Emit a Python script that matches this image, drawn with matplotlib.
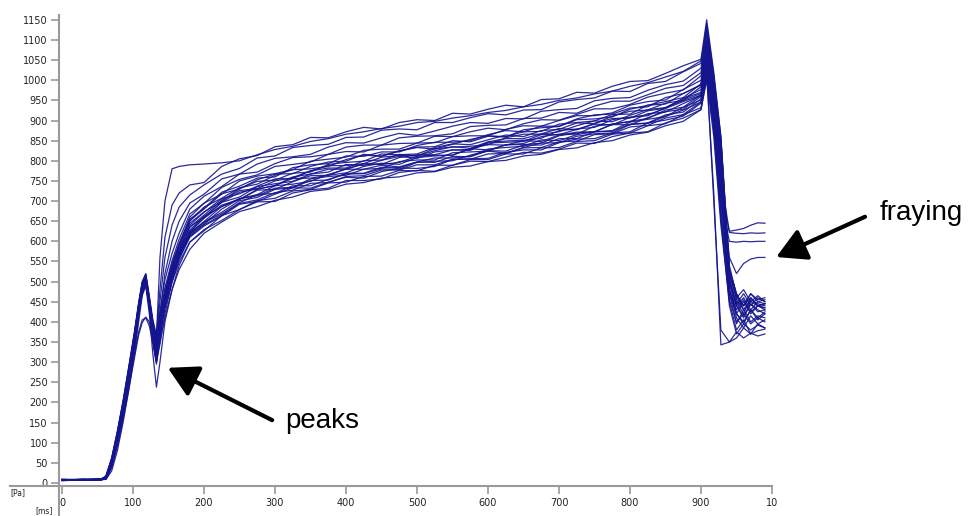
import matplotlib.pyplot as plt

# time grid [ms]: rise/peak part, plateau part, drop/fraying part
t_rise = [0, 30, 55, 62, 70, 78, 86, 94, 102, 108, 113, 118, 123, 128, 133, 138, 145, 155, 165, 180]
t_body = [200, 225, 250, 275, 300, 325, 350, 375, 400, 425, 450, 475, 500, 525, 550,
          575, 600, 625, 650, 675, 700, 725, 750, 775, 800, 825, 850, 875, 900]
t_drop = [908, 918, 928, 940, 950, 960, 970, 980, 990]

# pressure traces [Pa] (rise, body, drop)
tr01 = [7, 8, 8, 9, 30, 80, 150, 230, 320, 400, 465, 490, 440, 370, 310, 350, 410, 480, 530, 580,
        620, 648, 674, 686, 702, 710, 724, 729, 742, 746, 757, 760, 770, 773, 784, 787, 798, 801, 812, 816, 828, 832, 845, 850, 864, 871, 887, 898, 927,
        1000, 860, 640, 450, 380, 405, 370, 395, 385]
tr02 = [8, 7, 9, 12, 42, 98, 168, 248, 338, 418, 476, 495, 432, 362, 318, 372, 432, 498, 548, 598,
        626, 664, 679, 701, 707, 725, 729, 745, 747, 761, 762, 776, 775, 789, 789, 803, 803, 817, 817, 832, 833, 848, 850, 866, 869, 887, 892, 914, 932,
        1010, 880, 660, 455, 400, 420, 395, 410, 400]
tr03 = [6, 8, 8, 11, 48, 108, 180, 262, 350, 428, 482, 502, 438, 352, 300, 362, 445, 510, 560, 612,
        641, 665, 694, 703, 721, 727, 744, 746, 761, 763, 777, 777, 790, 790, 804, 804, 817, 818, 832, 833, 847, 849, 865, 867, 884, 888, 906, 915, 946,
        1020, 890, 680, 470, 420, 395, 430, 410, 425]
tr04 = [8, 9, 8, 14, 52, 112, 185, 268, 356, 432, 488, 508, 445, 372, 330, 385, 452, 518, 566, 622,
        648, 672, 701, 709, 729, 733, 751, 752, 769, 769, 784, 783, 797, 796, 811, 810, 825, 824, 839, 839, 855, 855, 872, 873, 891, 894, 914, 921, 954,
        1030, 900, 700, 480, 430, 455, 420, 440, 435]
tr05 = [7, 8, 9, 10, 40, 95, 165, 245, 335, 415, 470, 498, 450, 385, 335, 378, 440, 508, 560, 618,
        649, 687, 706, 716, 738, 742, 749, 766, 779, 779, 781, 798, 802, 802, 820, 822, 824, 840, 840, 844, 862, 869, 872, 890, 889, 907, 922, 928, 960,
        1040, 910, 720, 500, 440, 410, 445, 430, 420]
tr06 = [9, 8, 8, 13, 50, 110, 182, 265, 352, 430, 485, 505, 440, 360, 312, 372, 448, 520, 570, 628,
        662, 686, 704, 729, 739, 756, 757, 764, 780, 793, 791, 796, 811, 814, 814, 830, 840, 839, 843, 860, 866, 866, 886, 891, 897, 917, 921, 942, 962,
        1050, 930, 740, 470, 395, 430, 400, 415, 410]
tr07 = [8, 7, 9, 15, 55, 118, 192, 275, 362, 438, 490, 512, 448, 378, 340, 395, 462, 530, 578, 636,
        659, 697, 722, 730, 738, 760, 767, 772, 791, 788, 801, 811, 806, 822, 827, 828, 846, 849, 851, 856, 875, 879, 883, 902, 908, 912, 932, 950, 967,
        1060, 940, 760, 490, 450, 420, 460, 440, 445]
tr08 = [7, 9, 8, 10, 44, 102, 175, 256, 345, 424, 480, 500, 436, 350, 295, 360, 440, 515, 570, 640,
        672, 706, 718, 737, 755, 756, 775, 788, 788, 793, 809, 813, 812, 830, 834, 836, 840, 857, 866, 866, 872, 887, 899, 897, 913, 927, 932, 955, 977,
        1070, 950, 780, 500, 420, 400, 430, 405, 420]
tr09 = [8, 8, 10, 16, 58, 122, 196, 280, 366, 440, 494, 515, 455, 385, 345, 400, 468, 535, 585, 645,
        673, 699, 731, 749, 752, 769, 772, 791, 796, 799, 817, 815, 817, 833, 842, 840, 852, 864, 860, 875, 878, 894, 892, 911, 923, 926, 943, 950, 984,
        1080, 960, 800, 520, 460, 440, 470, 450, 455]
tr10 = [6, 8, 9, 12, 47, 106, 178, 260, 348, 426, 482, 503, 438, 355, 305, 368, 450, 525, 580, 650,
        685, 707, 733, 742, 764, 778, 780, 786, 803, 814, 811, 824, 833, 829, 841, 853, 862, 860, 872, 873, 891, 895, 899, 915, 916, 938, 947, 957, 991,
        1085, 965, 790, 480, 410, 385, 415, 395, 405]
tr11 = [9, 8, 8, 18, 62, 128, 202, 286, 372, 445, 498, 518, 460, 392, 352, 410, 478, 545, 595, 655,
        682, 722, 737, 757, 760, 783, 790, 793, 812, 811, 822, 822, 838, 846, 846, 850, 865, 875, 872, 886, 886, 904, 914, 916, 931, 934, 957, 967, 988,
        1095, 975, 810, 510, 445, 470, 440, 460, 450]
tr12 = [7, 8, 9, 11, 45, 104, 176, 258, 346, 425, 478, 498, 445, 378, 338, 398, 470, 540, 592, 660,
        695, 717, 750, 762, 768, 778, 799, 804, 809, 826, 829, 829, 844, 845, 860, 862, 862, 878, 887, 886, 900, 912, 912, 919, 938, 947, 951, 977, 1000,
        1100, 985, 830, 530, 470, 430, 455, 445, 440]
tr13 = [8, 9, 8, 14, 54, 116, 190, 272, 360, 436, 490, 510, 452, 388, 350, 410, 485, 552, 605, 668,
        694, 734, 754, 765, 786, 791, 797, 816, 823, 822, 839, 843, 844, 861, 860, 872, 881, 877, 892, 902, 901, 915, 929, 929, 940, 958, 968, 976, 1011,
        1110, 990, 820, 500, 440, 415, 445, 425, 430]
tr14 = [8, 7, 9, 16, 60, 125, 200, 284, 370, 444, 496, 516, 458, 395, 360, 425, 505, 570, 620, 680,
        712, 736, 767, 772, 793, 808, 810, 816, 834, 839, 839, 857, 861, 862, 867, 885, 888, 889, 905, 906, 920, 918, 936, 948, 948, 964, 980, 987, 1019,
        1120, 1000, 850, 540, 465, 440, 470, 455, 460]
tr15 = [7, 8, 9, 13, 50, 112, 188, 272, 360, 438, 492, 512, 455, 392, 352, 420, 520, 600, 650, 695,
        717, 755, 767, 792, 806, 810, 816, 834, 845, 844, 857, 868, 863, 874, 886, 895, 893, 905, 904, 923, 927, 930, 949, 955, 957, 975, 989, 998, 1030,
        1130, 1010, 860, 520, 460, 480, 450, 465, 450]
tr16 = [8, 8, 10, 15, 56, 120, 195, 280, 368, 442, 496, 514, 458, 398, 362, 450, 560, 640, 685, 715,
        740, 767, 781, 807, 812, 833, 838, 841, 858, 859, 876, 879, 877, 895, 895, 907, 917, 914, 926, 927, 946, 952, 956, 973, 972, 992, 997, 1021, 1042,
        1140, 1010, 840, 500, 440, 460, 430, 450, 445]
tr17 = [7, 9, 9, 17, 62, 128, 204, 288, 375, 448, 500, 520, 465, 405, 368, 480, 610, 690, 720, 740,
        746, 786, 805, 813, 835, 840, 858, 857, 872, 883, 879, 895, 902, 900, 918, 916, 928, 938, 934, 952, 954, 970, 968, 985, 997, 999, 1017, 1036, 1052,
        1150, 1020, 860, 530, 470, 440, 460, 440, 435]
tr18 = [8, 8, 9, 14, 52, 115, 190, 274, 362, 438, 490, 508, 455, 400, 360, 560, 700, 780, 786, 790,
        792, 795, 800, 815, 828, 836, 848, 855, 866, 872, 880, 886, 895, 898, 906, 912, 920, 925, 934, 940, 950, 956, 966, 973, 985, 994, 1008, 1022, 1048,
        1130, 1000, 850, 520, 455, 430, 450, 440, 445]
tr19 = [8, 8, 9, 12, 42, 98, 165, 240, 318, 375, 405, 410, 390, 350, 300, 345, 420, 500, 555, 610,
        638, 663, 692, 699, 717, 733, 732, 747, 759, 757, 773, 782, 781, 786, 803, 805, 806, 821, 827, 827, 845, 854, 855, 869, 872, 894, 901, 911, 943,
        1015, 880, 660, 440, 370, 395, 380, 392, 385]
tr20 = [7, 8, 8, 10, 38, 92, 158, 232, 310, 368, 398, 412, 400, 365, 330, 380, 445, 515, 565, 622,
        660, 697, 710, 736, 743, 749, 767, 779, 779, 792, 791, 808, 815, 815, 827, 826, 844, 846, 848, 865, 865, 878, 891, 889, 908, 914, 930, 947, 963,
        1055, 930, 740, 480, 420, 450, 425, 440, 430]
tr21 = [6, 7, 8, 11, 46, 106, 178, 260, 345, 420, 470, 490, 420, 320, 238, 300, 400, 480, 540, 598,
        629, 652, 679, 698, 699, 720, 728, 732, 751, 751, 755, 771, 776, 774, 789, 799, 798, 809, 821, 819, 829, 844, 843, 860, 869, 872, 894, 906, 927,
        1010, 720, 343, 350, 375, 360, 372, 365, 370]
tr22 = [8, 8, 9, 13, 48, 108, 182, 264, 352, 430, 484, 504, 440, 368, 325, 380, 450, 515, 565, 615,
        643, 680, 706, 713, 732, 734, 755, 761, 764, 779, 789, 785, 797, 807, 807, 811, 829, 833, 836, 852, 850, 865, 872, 875, 896, 903, 910, 933, 951,
        1030, 700, 380, 350, 360, 385, 370, 378, 382]
# traces that stay high after the drop ("fraying")
fray1 = [7, 9, 8, 12, 49, 110, 183, 266, 354, 432, 486, 506, 442, 365, 320, 378, 448, 516, 566, 624,
         657, 690, 704, 727, 729, 748, 763, 764, 770, 786, 794, 791, 808, 812, 814, 830, 827, 839, 850, 848, 864, 871, 872, 891, 898, 905, 926, 933, 964,
         1045, 920, 720, 625, 628, 632, 640, 646, 645]
fray2 = [8, 8, 9, 14, 51, 113, 186, 270, 358, 434, 488, 508, 446, 374, 336, 392, 458, 525, 575, 635,
         665, 702, 726, 731, 750, 758, 775, 782, 782, 800, 802, 816, 812, 825, 835, 831, 847, 855, 855, 867, 880, 877, 893, 905, 906, 924, 931, 954, 970,
         1065, 940, 760, 622, 620, 619, 621, 620, 621]
fray3 = [9, 7, 8, 11, 45, 104, 176, 258, 346, 425, 480, 500, 436, 360, 316, 372, 442, 510, 560, 618,
         647, 668, 696, 716, 719, 738, 738, 754, 767, 768, 780, 779, 796, 799, 800, 814, 824, 819, 833, 844, 845, 861, 867, 869, 890, 893, 910, 926, 946,
         1025, 880, 700, 600, 598, 600, 599, 600, 600]
fray4 = [8, 9, 9, 15, 56, 120, 194, 278, 364, 440, 492, 512, 450, 382, 345, 402, 472, 540, 590, 652,
         680, 718, 730, 753, 767, 768, 786, 797, 799, 816, 812, 825, 834, 835, 850, 847, 861, 859, 877, 882, 885, 902, 904, 909, 928, 938, 941, 967, 989,
         1090, 960, 760, 560, 520, 545, 556, 560, 560]

traces = [tr01, tr02, tr03, tr04, tr05, tr06, tr07, tr08, tr09, tr10, tr11, tr12, tr13,
          tr14, tr15, tr16, tr17, tr18, tr19, tr20, tr21, tr22, fray1, fray2, fray3, fray4]
t_ms = t_rise + t_body + t_drop

y_ticks = list(range(0, 1151, 50))
x_ticks = list(range(0, 1001, 100))
x_labels = [str(v) for v in x_ticks[:-1]] + ["10"]

fig = plt.figure(figsize=(9.68, 5.16), dpi=100)
ax = fig.add_axes([59 / 968, 1 - 486 / 516, 713 / 968, 471 / 516])

for tr in traces:
    ax.plot(t_ms, tr, color="#14148e", lw=0.9, alpha=0.9)

ax.set_xlim(-4.2, 1000)
ax.set_ylim(-7.5, 1162)

for s in ax.spines.values():
    s.set_visible(False)
axis_col = "#9a9a9a"
# axis lines run a bit past the origin, like the original software
ax.plot([-0.069, 1], [0, 0], transform=ax.transAxes, color=axis_col, lw=1.5, clip_on=False)
ax.plot([0, 0], [-0.065, 1], transform=ax.transAxes, color=axis_col, lw=1.5, clip_on=False)

ax.set_yticks(y_ticks)
ax.set_yticklabels([str(v) for v in y_ticks])
ax.set_xticks(x_ticks)
ax.set_xticklabels(x_labels)
ax.tick_params(axis="both", colors=axis_col, length=6, width=1.2, labelsize=7,
               labelcolor="#222222")
ax.tick_params(axis="y", pad=2)
ax.tick_params(axis="x", pad=3)

fig.text(10 / 968, 1 - 493 / 516, "[Pa]", fontsize=5.5, color="#222222", va="center")
fig.text(35 / 968, 1 - 511 / 516, "[ms]", fontsize=5.5, color="#222222", va="center")

arrow = dict(arrowstyle="-|>,head_length=0.9,head_width=0.5", lw=3, color="black",
             mutation_scale=20, shrinkA=0, shrinkB=0)
ax.annotate("", xy=(149, 286), xytext=(296, 156), arrowprops=arrow, annotation_clip=False)
ax.annotate("", xy=(1006, 561), xytext=(1131, 661), arrowprops=arrow, annotation_clip=False)
ax.text(315, 137, "peaks", fontsize=20, family="Liberation Sans", va="baseline", ha="left")
ax.text(1152, 653, "fraying", fontsize=20, family="Liberation Sans", va="baseline", ha="left",
        clip_on=False)

plt.savefig("out.png", dpi=100)
